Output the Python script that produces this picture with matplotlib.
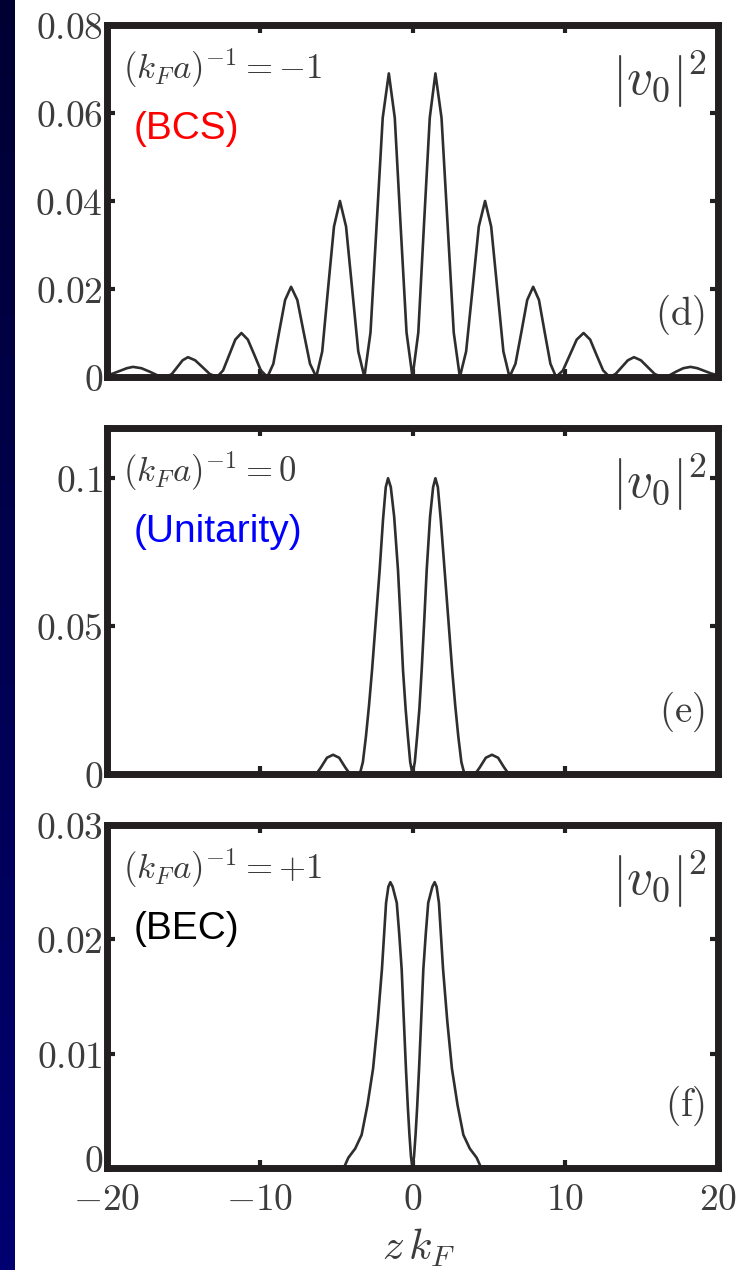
import matplotlib
matplotlib.use('Agg')
import matplotlib.pyplot as plt
import numpy as np
from matplotlib.ticker import FixedLocator, FixedFormatter
from matplotlib.colors import LinearSegmentedColormap
from matplotlib.transforms import ScaledTranslation

plt.rcParams['mathtext.fontset'] = 'cm'

# ---------------- data ----------------
# panel (d): (k_F a)^-1 = -1  (BCS)
z_d = [-20.0, -19.6, -19.15, -18.7, -18.3, -17.75, -17.2, -16.65, -16.1,
       -15.75, -15.4, -15.05, -14.7, -14.23, -13.75, -13.28, -12.8,
       -12.4, -12.0, -11.6, -11.2, -10.78, -10.35, -9.93, -9.5,
       -9.11, -8.73, -8.34, -7.95, -7.54, -7.13, -6.71, -6.3,
       -5.91, -5.53, -5.14, -4.75, -4.35, -3.95, -3.55, -3.15,
       -2.75, -2.35, -1.95, -1.55, -1.16, -0.78, -0.39, 0.0,
       0.38, 0.75, 1.13, 1.5, 1.9, 2.3, 2.7, 3.1,
       3.51, 3.93, 4.34, 4.75, 5.15, 5.55, 5.95, 6.35,
       6.74, 7.13, 7.51, 7.9, 8.28, 8.65, 9.03, 9.4,
       9.85, 10.3, 10.75, 11.2, 11.63, 12.05, 12.48, 12.9,
       13.3, 13.7, 14.1, 14.5, 14.95, 15.4, 15.85, 16.3,
       16.78, 17.25, 17.73, 18.2, 18.65, 19.1, 19.55, 20.0]
v_d = [0.0004, 0.0008, 0.0014, 0.0020, 0.0023, 0.0020, 0.0012, 0.0003, 0.0,
       0.0007, 0.00225, 0.0038, 0.0045, 0.0038, 0.00225, 0.0007, 0.0,
       0.0015, 0.0050, 0.0085, 0.0100, 0.0085, 0.0050, 0.0015, 0.0,
       0.0030, 0.01025, 0.0175, 0.0205, 0.0175, 0.01025, 0.0030, 0.0,
       0.0058, 0.0200, 0.0342, 0.0400, 0.0342, 0.0200, 0.0058, 0.0,
       0.0101, 0.0345, 0.0589, 0.0690, 0.0589, 0.0345, 0.0101, 0.0,
       0.0101, 0.0345, 0.0589, 0.0690, 0.0589, 0.0345, 0.0101, 0.0,
       0.0058, 0.0200, 0.0342, 0.0400, 0.0342, 0.0200, 0.0058, 0.0,
       0.0030, 0.01025, 0.0175, 0.0205, 0.0175, 0.01025, 0.0030, 0.0,
       0.0015, 0.0050, 0.0085, 0.0100, 0.0085, 0.0050, 0.0015, 0.0,
       0.0007, 0.00225, 0.0038, 0.0045, 0.0038, 0.00225, 0.0007, 0.0,
       0.0003, 0.0012, 0.0020, 0.0023, 0.0020, 0.0014, 0.0008, 0.0004]

# panel (e): (k_F a)^-1 = 0  (Unitarity)
z_e = [-20.0, -6.3, -6.0, -5.6, -5.2, -4.8, -4.4, -4.1,
       -3.45, -3.25, -3.05, -2.85, -2.65, -2.4, -2.15, -1.93, -1.75, -1.6,
       -1.42, -1.2, -0.95, -0.78, -0.62, -0.45, -0.3, -0.15, 0.0,
       0.15, 0.3, 0.45, 0.6, 0.77, 0.93, 1.15, 1.35, 1.5,
       1.66, 1.85, 2.1, 2.35, 2.6, 2.8, 3.0, 3.2, 3.4,
       4.1, 4.4, 4.8, 5.2, 5.6, 6.0, 6.3, 20.0]
v_e = [0.0, 0.0, 0.0022, 0.0055, 0.0065, 0.0055, 0.0022, 0.0,
       0.0, 0.004, 0.0126, 0.023, 0.035, 0.052, 0.069, 0.086, 0.097, 0.100,
       0.097, 0.087, 0.069, 0.052, 0.035, 0.022, 0.0126, 0.004, 0.0,
       0.004, 0.0126, 0.022, 0.035, 0.052, 0.069, 0.087, 0.097, 0.100,
       0.097, 0.086, 0.069, 0.052, 0.035, 0.023, 0.0126, 0.004, 0.0,
       0.0, 0.0022, 0.0055, 0.0065, 0.0055, 0.0022, 0.0, 0.0]

# panel (f): (k_F a)^-1 = +1  (BEC)
z_f = [-20.0, -4.5, -4.2, -3.75, -3.33, -2.95, -2.58, -2.28, -2.0, -1.73, -1.58, -1.45,
       -1.3, -1.03, -0.87, -0.71, -0.57, -0.43, -0.3, -0.2, -0.1, 0.0,
       0.1, 0.2, 0.3, 0.43, 0.57, 0.71, 0.87, 1.03, 1.3,
       1.45, 1.58, 1.73, 2.0, 2.28, 2.58, 2.95, 3.33, 3.75, 4.2, 4.5, 20.0]
v_f = [0.0, 0.0, 0.0009, 0.0017, 0.0029, 0.0055, 0.0087, 0.0128, 0.0174, 0.0232, 0.0246, 0.0250,
       0.0246, 0.0232, 0.0205, 0.0174, 0.0130, 0.0087, 0.0052, 0.0029, 0.0010, 0.0,
       0.0010, 0.0029, 0.0052, 0.0087, 0.0130, 0.0174, 0.0205, 0.0232, 0.0246,
       0.0250, 0.0246, 0.0232, 0.0174, 0.0128, 0.0087, 0.0055, 0.0029, 0.0017, 0.0009, 0.0, 0.0]

x_ticks = [-20, -10, 0, 10, 20]
x_ticklabels = ['$-20$', '$-10$', '$0$', '$10$', '$20$']
y_ticks_d = [0, 0.02, 0.04, 0.06, 0.08]
y_labels_d = ['$0$', '$0.02$', '$0.04$', '$0.06$', '$0.08$']
y_ticks_e = [0, 0.05, 0.1]
y_labels_e = ['$0$', '$0.05$', '$0.1$']
y_ticks_f = [0, 0.01, 0.02, 0.03]
y_labels_f = ['$0$', '$0.01$', '$0.02$', '$0.03$']

params = [r'$(k_F a)^{-1} = -1$', r'$(k_F a)^{-1} = 0$', r'$(k_F a)^{-1} = +1$']
regimes = ['(BCS)', '(Unitarity)', '(BEC)']
regime_colors = ['#ff0000', '#0000ff', '#000000']
panel_tags = ['$(\\mathrm{d})$', '$(\\mathrm{e})$', '$(\\mathrm{f})$']

# ---------------- figure ----------------
W, H = 753, 1270
fig = plt.figure(figsize=(W / 100, H / 100), dpi=100)
fig.patch.set_facecolor('white')

# navy strip on the left
strip = fig.add_axes([0, 0, 15 / W, 1])
cmap = LinearSegmentedColormap.from_list('navy', ['#000033', '#000070'])
strip.imshow(np.linspace(0, 1, 100).reshape(-1, 1), aspect='auto', cmap=cmap,
             extent=[0, 1, 0, 1], origin='upper')
strip.set_axis_off()

spine_col = '#231f20'
text_col = '#3c3c3c'
left, width = 107 / W, 611 / W
rects = [(25, 377), (428, 774), (825, 1168)]
ylims = [0.08, 0.117, 0.03]
data = [(z_d, v_d), (z_e, v_e), (z_f, v_f)]
yticks = [(y_ticks_d, y_labels_d), (y_ticks_e, y_labels_e), (y_ticks_f, y_labels_f)]

for i, ((top, bot), ymax, (zz, vv), (yt, yl)) in enumerate(zip(rects, ylims, data, yticks)):
    ax = fig.add_axes([left, (H - bot) / H, width, (bot - top) / H])
    ax.plot(zz, vv, color='#2e2e2e', lw=1.9, solid_joinstyle='round')
    ax.set_xlim(-20, 20)
    ax.set_ylim(0, ymax)
    for s in ax.spines.values():
        s.set_linewidth(5)
        s.set_color(spine_col)
    ax.tick_params(direction='in', length=6, width=3, color=spine_col,
                   top=True, right=True, labelcolor=text_col, labelsize=27, pad=3)
    ax.xaxis.set_major_locator(FixedLocator(x_ticks))
    ax.yaxis.set_major_locator(FixedLocator(yt))
    ax.yaxis.set_major_formatter(FixedFormatter(yl))
    if i == 2:
        ax.xaxis.set_major_formatter(FixedFormatter(x_ticklabels))
        ax.tick_params(axis='x', pad=10)
        ax.set_xlabel(r'$z\,k_F$', fontsize=31, color=text_col, labelpad=2)
        ax.xaxis.set_label_coords(0.51, -0.17)
        # lift the bottom "0" label slightly, as in the original
        zero_lbl = ax.yaxis.get_major_ticks()[0].label1
        zero_lbl.set_transform(zero_lbl.get_transform() +
                               ScaledTranslation(0, 7 / 72, fig.dpi_scale_trans))
    else:
        ax.tick_params(axis='x', labelbottom=False)

    h = bot - top
    ax.text(16 / 611, 1 - 22 / h, params[i], transform=ax.transAxes,
            fontsize=25, color=text_col, ha='left', va='top')
    ax.text(27 / 611, 1 - 86 / h, regimes[i], transform=ax.transAxes,
            fontsize=28, color=regime_colors[i], ha='left', va='top',
            family='Liberation Sans')
    ax.text(600 / 611, 1 - 24 / h, r'$|v_0|^2$', transform=ax.transAxes,
            fontsize=37, color=text_col, ha='right', va='top')
    ax.text(598 / 611, 62 / h, panel_tags[i], transform=ax.transAxes,
            fontsize=28, color=text_col, ha='right', va='center')

fig.savefig('out.png', dpi=100)
